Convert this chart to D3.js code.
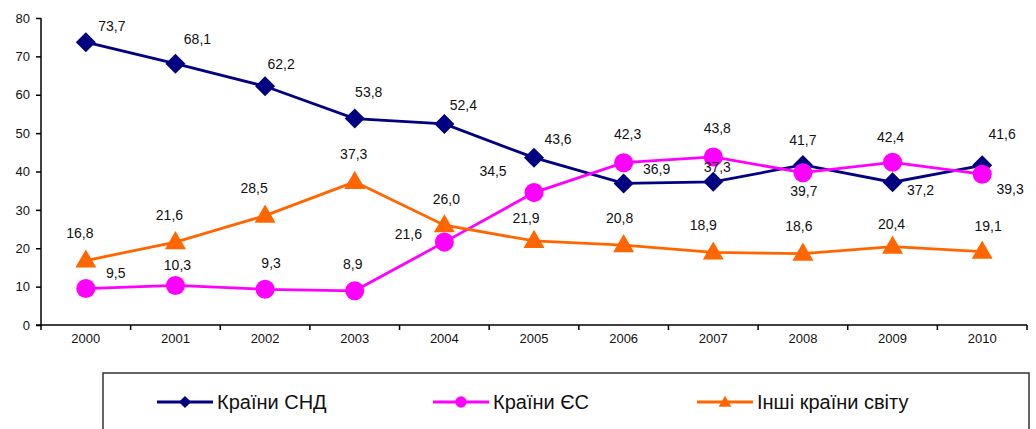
<!DOCTYPE html>
<html>
<head>
<meta charset="utf-8">
<script src="https://cdn.jsdelivr.net/npm/d3@7"></script>
<style>
  body { margin: 0; background: #fff; }
  text { font-family: "Liberation Sans", Arial, sans-serif; fill: #111; }
</style>
</head>
<body>
<div id="root"></div>
<script>
// years and values
var years = ['2000', '2001', '2002', '2003', '2004', '2005', '2006', '2007', '2008', '2009', '2010'];
var cisValues = [73.7, 68.1, 62.2, 53.8, 52.4, 43.6, 36.9, 37.3, 41.7, 37.2, 41.6];
var euValues = [9.5, 10.3, 9.3, 8.9, 21.6, 34.5, 42.3, 43.8, 39.7, 42.4, 39.3];
var otherValues = [16.8, 21.6, 28.5, 37.3, 26.0, 21.9, 20.8, 18.9, 18.6, 20.4, 19.1];
var seriesNames = ['Країни СНД', 'Країни ЄС', 'Інші країни світу'];
var yTicks = [0, 10, 20, 30, 40, 50, 60, 70, 80];

// label nudges (pixels), Excel had them dragged by hand
var cisLabelPos = [[26,-16],[22,-25],[16,-22],[14,-26],[19,-19],[24,-19],[33,-14],[4,-15],[0,-25],[28,8],[20,-31]];
var euLabelPos = [[30,-15],[2,-20],[6,-26],[-2,-27],[-36,-8],[-41,-22],[4,-29],[4,-29],[1,18],[-2,-25],[28,15]];
var otherLabelPos = [[-6,-27],[-6,-27],[-11,-28],[-1,-28],[2,-26],[-8,-23],[-4,-27],[-10,-27],[-4,-28],[-1,-23],[6,-26]];

var w = 1036, h = 429;
var plotLeft = 41, plotRight = 1027, plotTop = 18, plotBottom = 325;

var svg = d3.select('#root').append('svg')
  .attr('width', w)
  .attr('height', h);

var xScale = d3.scaleBand()
  .domain(years)
  .range([plotLeft, plotRight]);

var yScale = d3.scaleLinear()
  .domain([0, 80])
  .range([plotBottom, plotTop]);

// y axis
var yAxis = d3.axisLeft(yScale)
  .tickValues(yTicks)
  .tickSize(5)
  .tickPadding(6);

var gy = svg.append('g')
  .attr('transform', 'translate(' + plotLeft + ',0)')
  .call(yAxis);
gy.select('.domain').attr('stroke', '#000').attr('stroke-width', 1.5).attr('d', 'M0,' + plotTop + 'V' + plotBottom);
gy.selectAll('.tick line').attr('stroke', '#000').attr('stroke-width', 1.5);
gy.selectAll('.tick text').style('font-size', '13px').attr('fill', '#111');

// x axis - ticks go between categories like in Excel
svg.append('line')
  .attr('x1', plotLeft - 5).attr('x2', plotRight)
  .attr('y1', plotBottom).attr('y2', plotBottom)
  .attr('stroke', '#000').attr('stroke-width', 1.5);

var boundaries = years.map(function(d) { return xScale(d); }).concat([xScale.range()[1]]);
svg.selectAll('line.x-tick')
  .data(boundaries).enter()
  .append('line')
  .attr('class', 'x-tick')
  .attr('x1', function(d) { return d; })
  .attr('x2', function(d) { return d; })
  .attr('y1', plotBottom)
  .attr('y2', plotBottom + 5)
  .attr('stroke', '#000').attr('stroke-width', 1.5);

svg.selectAll('text.x-label')
  .data(years).enter()
  .append('text')
  .attr('class', 'x-label')
  .attr('x', function(d) { return xScale(d) + xScale.bandwidth() / 2; })
  .attr('y', plotBottom + 13)
  .attr('dy', '0.35em')
  .attr('text-anchor', 'middle')
  .style('font-size', '13px')
  .text(function(d) { return d; });

var cx = function(d, i) { return xScale(years[i]) + xScale.bandwidth() / 2; };

// diamond = square turned 45 degrees (d3's own diamond is too tall)
var series = [
  { name: seriesNames[0], values: cisValues, color: '#000080', shape: d3.symbolSquare, rot: 45, size: 200, legendSize: 75, dy: 0, pos: cisLabelPos },
  { name: seriesNames[1], values: euValues, color: '#ff00ff', shape: d3.symbolCircle, rot: 0, size: 285, legendSize: 100, dy: 0, pos: euLabelPos },
  { name: seriesNames[2], values: otherValues, color: '#ff6600', shape: d3.symbolTriangle, rot: 0, size: 190, legendSize: 70, dy: 1, pos: otherLabelPos }
];

var line = d3.line()
  .x(cx)
  .y(function(d) { return yScale(d); });

series.forEach(function(s) {
  var g = svg.append('g');
  g.append('path')
    .attr('d', line(s.values))
    .attr('fill', 'none')
    .attr('stroke', s.color)
    .attr('stroke-width', 2.8);

  g.selectAll('path.marker')
    .data(s.values).enter()
    .append('path')
    .attr('class', 'marker')
    .attr('d', d3.symbol().type(s.shape).size(s.size))
    .attr('transform', function(d, i) {
      return 'translate(' + cx(d, i) + ',' + (yScale(d) + s.dy) + ') rotate(' + s.rot + ')';
    })
    .attr('fill', s.color);
});

// data labels on top of everything
series.forEach(function(s) {
  svg.selectAll(null)
    .data(s.values).enter()
    .append('text')
    .attr('x', function(d, i) { return cx(d, i) + s.pos[i][0]; })
    .attr('y', function(d, i) { return yScale(d) + s.pos[i][1]; })
    .attr('dy', '0.35em')
    .attr('text-anchor', 'middle')
    .style('font-size', '14px')
    .text(function(d) { return d.toFixed(1).replace('.', ','); });
});

// legend box at the bottom
var legend = svg.append('g').attr('class', 'legend');
legend.append('rect')
  .attr('x', 103).attr('y', 373)
  .attr('width', 926).attr('height', 80)
  .attr('fill', '#fff')
  .attr('stroke', '#333')
  .attr('stroke-width', 1.5);

var legendX = [157, 433, 697];
series.forEach(function(s, i) {
  var g = legend.append('g').attr('transform', 'translate(' + legendX[i] + ',402)');
  g.append('line')
    .attr('x1', 0).attr('x2', 56)
    .attr('y1', 0).attr('y2', 0)
    .attr('stroke', s.color).attr('stroke-width', 2.8);
  g.append('path')
    .attr('d', d3.symbol().type(s.shape).size(s.legendSize))
    .attr('transform', 'translate(28,' + s.dy + ') rotate(' + s.rot + ')')
    .attr('fill', s.color);
  g.append('text')
    .attr('x', 60)
    .attr('y', 0)
    .attr('dy', '0.35em')
    .style('font-size', '20px')
    .text(s.name);
});
</script>
</body>
</html>
